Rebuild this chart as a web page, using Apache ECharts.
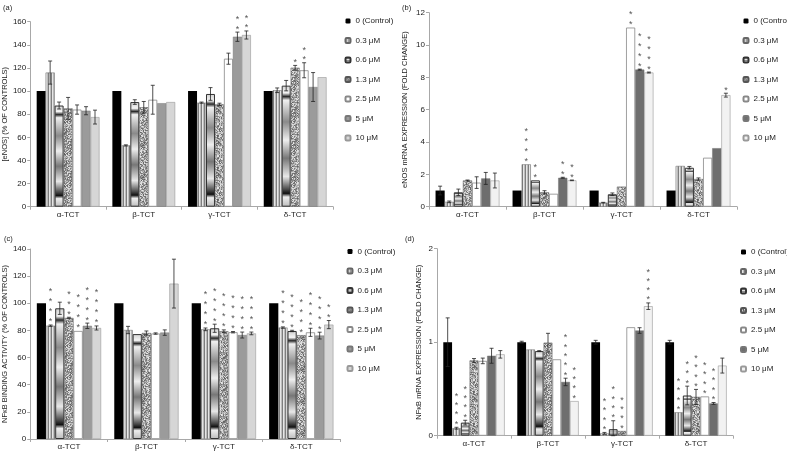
<!DOCTYPE html>
<html><head><meta charset="utf-8">
<script src="https://cdn.jsdelivr.net/npm/echarts@6/dist/echarts.min.js"></script>
<style>html,body{margin:0;padding:0;background:#fff}#c{width:787px;height:452px}</style>
</head><body><div id="c"></div>
<script>
const categories = ['α-TCT', 'β-TCT', 'γ-TCT', 'δ-TCT'];
const doses = ['0 (Control)', '0.3 μM', '0.6 μM', '1.3 μM', '2.5 μM', '5 μM', '10 μM'];

// (a) [eNOS] % of controls — rows: TCT, columns: dose
const aMean = [
  [100, 116, 87.5, 85, 84, 83, 77.5],
  [100, 53, 90.5, 86, 92.5, 89.5, 90.5],
  [100, 90, 97.5, 88.5, 128, 147, 148.5],
  [100, 100.7, 104.7, 120.2, 118, 103.5, 112]
];
const aErr = [
  [0, 10, 3, 9.5, 4, 3.5, 6],
  [0, 0.5, 2, 5, 12.5, 0, 0],
  [0, 0.5, 5.5, 1, 4.8, 4, 3.5],
  [0, 2, 4.5, 2, 6.5, 12.5, 0]
];
const aStars = [
  [0, 0, 0, 0, 0, 0, 0],
  [0, 0, 0, 0, 0, 0, 0],
  [0, 0, 0, 0, 0, 2, 2],
  [0, 0, 0, 1, 2, 0, 0]
];

// (b) eNOS mRNA fold change
const bMean = [
  [1.0, 0.3, 0.89, 1.62, 1.49, 1.75, 1.62],
  [1.0, 2.62, 1.63, 0.89, 0.8, 1.79, 1.63],
  [1.0, 0.25, 0.77, 1.24, 11.08, 8.48, 8.3],
  [1.0, 2.52, 2.41, 1.71, 3.03, 3.62, 6.9]
];
const bErr = [
  [0.27, 0.05, 0.2, 0.03, 0.36, 0.37, 0.46],
  [0, 0, 0, 0.1, 0, 0.03, 0.02],
  [0, 0.02, 0.08, 0, 0, 0.03, 0.03],
  [0, 0, 0.08, 0.07, 0, 0, 0.12]
];
const bStars = [
  [0, 0, 0, 0, 0, 0, 0],
  [0, 4, 2, 0, 0, 2, 2],
  [0, 0, 0, 0, 2, 4, 4],
  [0, 0, 0, 0, 0, 0, 1]
];

// (c) NFκB binding activity % of controls
const cMean = [
  [100, 83.5, 96.3, 89.2, 79.6, 83.4, 81.8],
  [100, 80.3, 77.3, 78.1, 77.7, 78.4, 114.5],
  [100, 80.8, 81.6, 79.4, 78.7, 76.6, 77.8],
  [100, 82.1, 79.6, 76.5, 78.6, 76.2, 84.3]
];
const cErr = [
  [0, 0.5, 4.5, 0.5, 0, 2, 1.5],
  [0, 2.7, 0, 1.5, 0.5, 2, 18],
  [0, 1, 3, 1, 0.5, 2.2, 1],
  [0, 0.5, 0.5, 0, 3, 2.5, 3]
];
const cStars = [
  [0, 4, 0, 3, 4, 4, 4],
  [0, 0, 0, 0, 0, 0, 0],
  [0, 4, 4, 4, 4, 4, 4],
  [0, 4, 4, 4, 4, 4, 2]
];

// (d) NFκB mRNA fold change
const dMean = [
  [1.0, 0.08, 0.14, 0.805, 0.80, 0.855, 0.87],
  [1.0, 0.922, 0.905, 0.995, 0.817, 0.575, 0.37],
  [1.0, 0.025, 0.07, 0.05, 1.16, 1.125, 1.385],
  [1.0, 0.25, 0.43, 0.415, 0.42, 0.345, 0.75]
];
const dErr = [
  [0.26, 0.01, 0.025, 0.02, 0.03, 0.08, 0.04],
  [0.01, 0, 0.005, 0.1, 0, 0.04, 0],
  [0.02, 0.01, 0.09, 0, 0, 0.03, 0.035],
  [0.02, 0, 0.1, 0.08, 0, 0.01, 0.08]
];
const dStars = [
  [0, 4, 4, 0, 0, 0, 0],
  [0, 0, 0, 0, 0, 5, 4],
  [0, 4, 4, 4, 0, 0, 4],
  [0, 4, 3, 4, 4, 4, 0]
];

const yNames = ['[eNOS] (% OF CONTROLS)', 'eNOS mRNA EXPRESSION (FOLD CHANGE)',
  'NFκB BINDING ACTIVITY (% OF CONTROLS)', 'NFκB mRNA EXPRESSION (FOLD CHANGE)'];
const yMax = [160, 12, 140, 2];
const yInterval = [20, 2, 20, 1];
const panelLabels = ['(a)', '(b)', '(c)', '(d)'];

const panels = [
  {mean: aMean, err: aErr, stars: aStars},
  {mean: bMean, err: bErr, stars: bStars},
  {mean: cMean, err: cErr, stars: cStars},
  {mean: dMean, err: dErr, stars: dStars}
];

// ---------- styling ----------
const FONT = '"Liberation Sans", Arial, sans-serif';
const GAP = 0.17;
function makeCanvas(w, h, draw) { const c = document.createElement('canvas'); c.width = w; c.height = h; draw(c.getContext('2d')); return c; }
const stripe = makeCanvas(3, 4, ctx => { ['#7e7e7e', '#e6e6e6', '#bcbcbc'].forEach((col, i) => { ctx.fillStyle = col; ctx.fillRect(i, 0, 1, 4); }); });
function hash(x, y) {
  let h = (Math.imul(x, 374761393) + Math.imul(y, 668265263)) | 0;
  h = Math.imul(h ^ (h >>> 13), 1274126177);
  h ^= h >>> 16;
  return (h >>> 0) / 4294967296;
}
const noise = makeCanvas(32, 32, ctx => {
  for (let y = 0; y < 32; y++) for (let x = 0; x < 32; x++) {
    const r = hash(x + 7, y + 11);
    const g = Math.round(95 + r * 140);
    ctx.fillStyle = 'rgb(' + g + ',' + g + ',' + g + ')'; ctx.fillRect(x, y, 1, 1);
  }
});
const chrome = {type: 'linear', x: 0, y: 0, x2: 0, y2: 1, colorStops: [
  {offset: 0, color: '#d0d0d0'}, {offset: 0.06, color: '#f5f5f5'}, {offset: 0.09, color: '#2a2a2a'},
  {offset: 0.12, color: '#f0f0f0'}, {offset: 0.3, color: '#8a8a8a'}, {offset: 0.45, color: '#eeeeee'},
  {offset: 0.6, color: '#777777'}, {offset: 0.75, color: '#e8e8e8'}, {offset: 0.86, color: '#444444'},
  {offset: 0.89, color: '#111111'}, {offset: 0.92, color: '#eeeeee'}, {offset: 1, color: '#bbbbbb'}]};

function doseStyle(p, d) {
  const dark = (p === 1 || p === 3);
  return [
    {color: '#000000', borderWidth: 0},
    {color: {image: stripe, repeat: 'repeat'}, borderColor: '#666', borderWidth: 0.5},
    {color: chrome, borderColor: '#333', borderWidth: 1},
    {color: {image: noise, repeat: 'repeat'}, borderColor: '#555', borderWidth: 0.5},
    {color: '#ffffff', borderColor: '#888', borderWidth: 0.8},
    {color: dark ? '#6e6e6e' : '#9b9b9b', borderColor: '#777', borderWidth: 0.5},
    {color: dark ? '#f2f2f2' : '#d6d6d6', borderColor: '#999', borderWidth: 0.6}
  ][d];
}

const grids = [
  {left: 29, top: 21.7, width: 304, height: 185},
  {left: 429, top: 12.7, width: 308, height: 194},
  {left: 30, top: 249, width: 310, height: 190},
  {left: 437, top: 248.7, width: 296, height: 187}
];
const nameGaps = [13, 20, 14, 14];
const legendPos = [{left: 339.5, top: 11}, {left: 737.5, top: 11}, {left: 341.5, top: 241.5}, {left: 735, top: 242}];
const starGap = [9.5, 10, 10, 9.3];
const labelPos = [[3, 4], [402, 4], [4, 235], [405, 235]];

const ZW = '\u200b';
const sname = (p, d) => doses[d] + ZW.repeat(p);

const xAxes = [], yAxes = [], series = [], legends = [], graphics = [];
panels.forEach((P, p) => {
  xAxes.push({
    type: 'category', gridIndex: p, data: categories,
    axisLine: {lineStyle: {color: '#a8a8a8', width: 1}},
    axisTick: {show: true, length: 3, alignWithLabel: false, lineStyle: {color: '#a8a8a8'}},
    axisLabel: {fontSize: 8, color: '#222', margin: 4, fontFamily: FONT}
  });
  yAxes.push({
    type: 'value', gridIndex: p, min: 0, max: yMax[p], interval: yInterval[p],
    name: yNames[p], nameLocation: 'middle', nameGap: nameGaps[p],
    nameTextStyle: {fontSize: 7.5, color: '#222', fontFamily: FONT},
    axisLine: {show: true, lineStyle: {color: '#a8a8a8', width: 1}},
    axisTick: {show: true, length: 3, lineStyle: {color: '#a8a8a8'}},
    splitLine: {show: false},
    axisLabel: {fontSize: 8, color: '#222', margin: 4, fontFamily: FONT}
  });
  for (let d = 0; d < 7; d++) {
    series.push({
      type: 'bar', name: sname(p, d), xAxisIndex: p, yAxisIndex: p,
      barGap: '0%', barCategoryGap: (GAP * 100) + '%',
      data: categories.map((_, c) => P.mean[c][d]),
      itemStyle: doseStyle(p, d), silent: true
    });
  }
  const edata = [];
  categories.forEach((_, c) => { for (let d = 0; d < 7; d++) edata.push([c, P.mean[c][d], P.err[c][d], P.stars[c][d], d]); });
  const sg = starGap[p];
  series.push({
    type: 'custom', xAxisIndex: p, yAxisIndex: p, silent: true, z: 5,
    encode: {x: 0, y: 1},
    data: edata,
    renderItem: function (params, api) {
      const c = api.value(0), v = api.value(1), e = api.value(2), n = api.value(3), d = api.value(4);
      const band = api.size([1, 0])[0];
      const bw = band * (1 - GAP) / 7;
      const base = api.coord([c, v]);
      const x = base[0] + (d - 3) * bw;
      const ch = [];
      let topY = base[1];
      if (e > 0) {
        const y1 = api.coord([c, v + e])[1], y2 = api.coord([c, Math.max(0, v - e)])[1];
        topY = y1;
        const ls = {stroke: '#222', lineWidth: 0.8};
        ch.push({type: 'line', shape: {x1: x, y1: y1, x2: x, y2: y2}, style: ls});
        ch.push({type: 'line', shape: {x1: x - 2, y1: y1, x2: x + 2, y2: y1}, style: ls});
        ch.push({type: 'line', shape: {x1: x - 2, y1: y2, x2: x + 2, y2: y2}, style: ls});
      }
      for (let k = 0; k < n; k++) {
        ch.push({type: 'text', style: {text: '*', x: x, y: topY - 5.5 - k * sg + 2.5, align: 'center', verticalAlign: 'middle',
          fontSize: 9, fontFamily: FONT, fill: '#555'}});
      }
      return {type: 'group', children: ch};
    }
  });
  legends.push({
    orient: 'vertical', left: legendPos[p].left, top: legendPos[p].top,
    itemWidth: 5, itemHeight: 5, itemGap: 9.5, selectedMode: false,
    data: doses.map((_, d) => sname(p, d)),
    formatter: n => n.replace(/\u200b/g, ''),
    textStyle: {fontSize: 8, lineHeight: 10, color: '#222', fontFamily: FONT}
  });
  graphics.push({type: 'text', left: labelPos[p][0], top: labelPos[p][1],
    style: {text: panelLabels[p], fontSize: 7.5, fill: '#222', fontFamily: FONT}});
});

const chart = echarts.init(document.getElementById('c'), null, {renderer: 'canvas'});
chart.setOption({
  animation: false,
  backgroundColor: '#ffffff',
  textStyle: {fontFamily: FONT},
  grid: grids,
  xAxis: xAxes,
  yAxis: yAxes,
  legend: legends,
  series: series,
  graphic: graphics
});
</script>
</body></html>
